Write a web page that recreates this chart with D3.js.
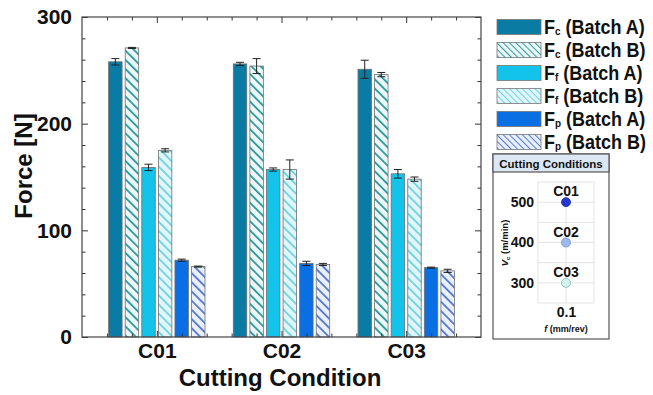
<!DOCTYPE html>
<html>
<head>
<meta charset="utf-8">
<script src="https://cdn.jsdelivr.net/npm/d3@7"></script>
<style>
  body{margin:0;background:#fff;}
  text{font-family:"Liberation Sans",Arial,sans-serif;font-weight:bold;fill:#111;}
</style>
</head>
<body>
<svg width="653" height="395"></svg>
<script>
/* data */
let categories=['C01','C02','C03']
let seriesKeys=['FcA','FcB','FfA','FfB','FpA','FpB']
let seriesSub=['c','c','f','f','p','p']
let seriesBatch=['A','B','A','B','A','B']
let FcA=[258,256,251], FcA_err=[3,1.5,8.5]
let FcB=[271,254,246], FcB_err=[0.5,7,2]
let FfA=[159,157,153], FfA_err=[3,1.5,4]
let FfB=[175,157,148], FfB_err=[1.5,9,2]
let FpA=[72,69,65],    FpA_err=[1,2,0.5]
let FpB=[66,68,62],    FpB_err=[0.5,1,1.5]
let yTicks=[0,100,200,300]

/* inset data */
let condNames=['C01','C02','C03']
let condVc=[500,400,300]
let condF=[0.1,0.1,0.1]
let insetYTicks=[300,400,500]

let values=[FcA,FcB,FfA,FfB,FpA,FpB]
let errors=[FcA_err,FcB_err,FfA_err,FfB_err,FpA_err,FpB_err]

let svg=d3.select('svg')
let width=653,height=395

/*styles*/
let solid={FcA:'#0a7ba3',FfA:'#14c3e9',FpA:'#0a6fe2'}
let hatch={FcB:['#eef7f8','#2b9b9e'],FfB:['#e0f6fa','#6fd3e0'],FpB:['#eaf0fa','#5479cf']}

let defs=svg.append('defs')
Object.keys(hatch).forEach(k=>{
  let p=defs.append('pattern').attr('id','h_'+k)
    .attr('patternUnits','userSpaceOnUse').attr('width',6.5).attr('height',6.5)
    .attr('patternTransform','rotate(-45)')
  p.append('rect').attr('width',6.5).attr('height',6.5).attr('fill',hatch[k][0])
  p.append('rect').attr('width',1.8).attr('height',6.5).attr('fill',hatch[k][1])
  // finer version for legend swatches
  let q=defs.append('pattern').attr('id','hl_'+k)
    .attr('patternUnits','userSpaceOnUse').attr('width',4.5).attr('height',4.5)
    .attr('patternTransform','rotate(-45)')
  q.append('rect').attr('width',4.5).attr('height',4.5).attr('fill',hatch[k][0])
  q.append('rect').attr('width',1).attr('height',4.5).attr('fill',hatch[k][1])
})
function fillOf(k){ return solid[k] ? solid[k] : 'url(#h_'+k+')' }

/*scales*/
let x=d3.scaleLinear().domain([0.4,3.6]).range([82,481])
let y=d3.scaleLinear().domain([0,300]).range([337,17])
let pitch=0.133, bw=0.108

/*bars*/
let bars=[]
categories.forEach((c,ci)=>{
  seriesKeys.forEach((k,si)=>{
    bars.push({k:k,pos:ci+1+(si-2.5)*pitch,v:values[si][ci],e:errors[si][ci]})
  })
})
let g=svg.append('g')
g.selectAll('rect.bar').data(bars).enter().append('rect').attr('class','bar')
  .attr('x',d=>x(d.pos-bw/2)).attr('width',d=>x(d.pos+bw/2)-x(d.pos-bw/2))
  .attr('y',d=>y(d.v)).attr('height',d=>y(0)-y(d.v))
  .attr('fill',d=>fillOf(d.k)).attr('stroke','#6f6f6f').attr('stroke-width',0.8)

let eb=g.selectAll('g.err').data(bars).enter().append('g').attr('class','err')
  .attr('stroke','#222').attr('stroke-width',1)
eb.append('line').attr('x1',d=>x(d.pos)).attr('x2',d=>x(d.pos))
  .attr('y1',d=>y(d.v+d.e)).attr('y2',d=>y(d.v-d.e))
eb.append('line').attr('x1',d=>x(d.pos)-4).attr('x2',d=>x(d.pos)+4)
  .attr('y1',d=>y(d.v+d.e)).attr('y2',d=>y(d.v+d.e))
eb.append('line').attr('x1',d=>x(d.pos)-4).attr('x2',d=>x(d.pos)+4)
  .attr('y1',d=>y(d.v-d.e)).attr('y2',d=>y(d.v-d.e))

/*axes, ticks inside*/
let minorY=d3.range(20,300,20).filter(v=>v%100)
let minorX=d3.range(0.6,3.5,0.2).filter(v=>Math.abs(v-Math.round(v))>0.05)
function axisStyle(sel){ sel.select('.domain').remove(); sel.selectAll('line').attr('stroke','#333') }
function bigText(sel,size){ sel.selectAll('text').style('font-size',size).style('font-family','"Liberation Sans",Arial').style('font-weight','bold').attr('fill','#111') }

svg.append('g').attr('transform','translate(82,0)')
  .call(d3.axisLeft(y).tickValues(yTicks).tickSize(-6).tickPadding(10).tickFormat(d3.format('d')))
  .call(axisStyle).call(bigText,'21px')
svg.append('g').attr('transform','translate(82,0)')
  .call(d3.axisLeft(y).tickValues(minorY).tickSize(-3.5).tickFormat('')).call(axisStyle)
svg.append('g').attr('transform','translate(481,0)')
  .call(d3.axisRight(y).tickValues(yTicks).tickSize(-6).tickFormat('')).call(axisStyle)
svg.append('g').attr('transform','translate(481,0)')
  .call(d3.axisRight(y).tickValues(minorY).tickSize(-3.5).tickFormat('')).call(axisStyle)

svg.append('g').attr('transform','translate(0,337)')
  .call(d3.axisBottom(x).tickValues([1,2,3]).tickSize(-6).tickPadding(6).tickFormat((d,i)=>categories[i]))
  .call(axisStyle).call(bigText,'21px')
svg.append('g').attr('transform','translate(0,337)')
  .call(d3.axisBottom(x).tickValues(minorX).tickSize(-3.5).tickFormat('')).call(axisStyle)
svg.append('g').attr('transform','translate(0,17)')
  .call(d3.axisTop(x).tickValues([1,2,3]).tickSize(-6).tickFormat('')).call(axisStyle)
svg.append('g').attr('transform','translate(0,17)')
  .call(d3.axisTop(x).tickValues(minorX).tickSize(-3.5).tickFormat('')).call(axisStyle)

svg.append('rect').attr('x',82).attr('y',17).attr('width',399).attr('height',320)
  .attr('fill','none').attr('stroke','#444').attr('stroke-width',1.2)

/*axis titles*/
svg.append('text').attr('transform','translate(32,166) rotate(-90)')
  .attr('text-anchor','middle').style('font-size','24px').text('Force [N]')
svg.append('text').attr('x',280).attr('y',386)
  .attr('text-anchor','middle').style('font-size','24px').text('Cutting Condition')

/*legend*/
let leg=svg.append('g').selectAll('g').data(seriesKeys).enter().append('g')
  .attr('transform',(d,i)=>'translate(497,'+(27+i*23)+')')
leg.append('rect').attr('x',0).attr('y',-7.5).attr('width',44).attr('height',15)
  .attr('fill',d=>solid[d] ? solid[d] : 'url(#hl_'+d+')').attr('stroke','#777').attr('stroke-width',0.8)
let lt=leg.append('text').attr('transform','translate(47,7) scale(0.9,1)').style('font-size','20px')
lt.append('tspan').text('F')
lt.append('tspan').attr('dy',1).style('font-size','11px').text((d,i)=>seriesSub[i])
lt.append('tspan').attr('dy',-1).text((d,i)=>' (Batch '+seriesBatch[i]+')')

/*inset: cutting conditions*/
let ins=svg.append('g')
ins.append('rect').attr('x',493).attr('y',154).attr('width',116).attr('height',185)
  .attr('fill','#fff').attr('stroke','#555').attr('stroke-width',1.2)
ins.append('rect').attr('x',493).attr('y',154).attr('width',116).attr('height',18)
  .attr('fill','#dce7f6').attr('stroke','#555').attr('stroke-width',1.2)
ins.append('text').attr('x',551).attr('y',167.5).attr('text-anchor','middle')
  .style('font-size','11.5px').text('Cutting Conditions')

let ix=d3.scaleLinear().domain([0.05,0.15]).range([538,594])
let iy=d3.scaleLinear().domain([250,550]).range([303,182])
ins.append('g').selectAll('line').data(d3.range(250,551,50)).enter().append('line')
  .attr('x1',ix(0.05)).attr('x2',ix(0.15)).attr('y1',d=>iy(d)).attr('y2',d=>iy(d))
  .attr('stroke','#e3e3e3')
ins.append('g').selectAll('line').data([0.05,0.1,0.15]).enter().append('line')
  .attr('x1',d=>ix(d)).attr('x2',d=>ix(d)).attr('y1',iy(250)).attr('y2',iy(550))
  .attr('stroke','#e3e3e3')

ins.append('g').attr('transform','translate(538,0)')
  .call(d3.axisLeft(iy).tickValues(insetYTicks).tickSize(0).tickPadding(4))
  .call(s=>s.select('.domain').remove()).call(bigText,'14px')
ins.append('g').attr('transform','translate(0,303)')
  .call(d3.axisBottom(ix).tickValues([0.1]).tickSize(0).tickPadding(4).tickFormat(d3.format('.1f')))
  .call(s=>s.select('.domain').remove()).call(bigText,'14px')

let ptFill=['#2338d0','#9db9ec','#d3f3f1'], ptStroke=['#1a2a9a','#6d8fd0','#7fb5b5']
let pts=ins.append('g').selectAll('g').data(condNames).enter().append('g')
pts.append('circle').attr('cx',(d,i)=>ix(condF[i])).attr('cy',(d,i)=>iy(condVc[i])).attr('r',4.5)
  .attr('fill',(d,i)=>ptFill[i]).attr('stroke',(d,i)=>ptStroke[i]).attr('stroke-width',0.8)
pts.append('text').attr('x',(d,i)=>ix(condF[i])).attr('y',(d,i)=>iy(condVc[i])-6)
  .attr('text-anchor','middle').style('font-size','14px').text(d=>d)

let fl=ins.append('text').attr('x',566).attr('y',332).attr('text-anchor','middle').style('font-size','9px')
fl.append('tspan').style('font-style','italic').text('f')
fl.append('tspan').text(' (mm/rev)')
let vl=ins.append('text').attr('transform','translate(508,243) rotate(-90)').attr('text-anchor','middle').style('font-size','9.5px')
vl.append('tspan').style('font-style','italic').text('V')
vl.append('tspan').attr('dy',2).style('font-size','6px').text('c')
vl.append('tspan').attr('dy',-2).text(' (m/min)')
</script>
</body>
</html>
